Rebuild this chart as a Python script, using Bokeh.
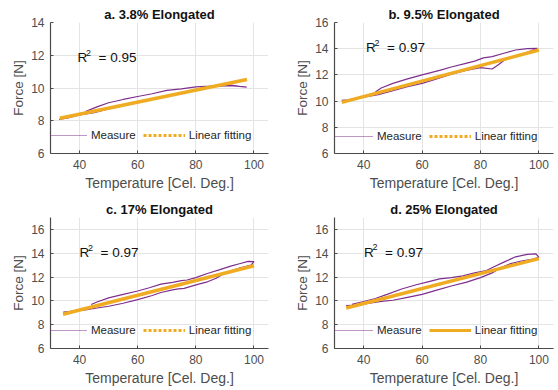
from bokeh.plotting import figure
from bokeh.layouts import gridplot
from bokeh.models import Range1d, Legend, LegendItem, Label, FixedTicker
from bokeh.embed import file_html
from bokeh.resources import INLINE

# ---------------- data ----------------
titles = ["a. 3.8% Elongated", "b. 9.5% Elongated", "c. 17% Elongated", "d. 25% Elongated"]
r2_values = ["0.95", "0.97", "0.97", "0.97"]
x_ticks = [40, 60, 80, 100]
y_ticks_a = [6, 8, 10, 12, 14]
y_ticks_bcd = [6, 8, 10, 12, 14, 16]

# panel a: measured loop (heating branch then cooling branch)
a_temp = [33, 36, 40, 45, 50, 55, 60, 65, 70, 75, 80, 84, 88, 92, 95, 97.5,
          95, 92, 89, 85, 80, 75, 70, 65, 60, 55, 50, 46, 42]
a_force = [8.08, 8.18, 8.35, 8.5, 8.72, 8.92, 9.1, 9.3, 9.48, 9.68, 9.92, 10.06, 10.12, 10.15, 10.1, 10.05,
           10.1, 10.17, 10.2, 10.12, 10.07, 9.95, 9.85, 9.65, 9.48, 9.3, 9.1, 8.85, 8.56]
a_fit_x = [33.2, 97.6]
a_fit_y = [8.15, 10.52]

# panel b
b_temp = [32.5, 35, 40, 45, 50, 55, 60, 65, 70, 75, 80, 84, 86, 88, 90, 95, 99.5,
          96, 92, 88, 84, 81, 78, 75, 70, 66, 60, 55, 50, 46, 44]
b_force = [10.05, 10.1, 10.3, 10.5, 10.8, 11.1, 11.35, 11.7, 12.05, 12.35, 12.55, 12.45, 12.75, 13.1, 13.3, 13.65, 14.02,
           14.0, 13.9, 13.65, 13.4, 13.3, 13.05, 12.88, 12.6, 12.35, 12.0, 11.7, 11.35, 11.0, 10.7]
b_fit_x = [32.5, 100]
b_fit_y = [9.9, 13.9]

# panel c
c_temp = [34.4, 38, 42, 46, 50, 55, 60, 65, 68, 72, 74, 76, 78, 81, 84, 87, 90, 95, 99, 100,
          98, 95, 92, 88, 84, 80, 77, 75, 72, 68, 64, 60, 55, 50, 46, 44]
c_force = [9.05, 9.15, 9.25, 9.4, 9.55, 9.8, 10.1, 10.45, 10.7, 10.92, 11.0, 11.05, 11.2, 11.4, 11.6, 11.9, 12.35, 12.75, 13.0, 13.3,
           13.32, 13.12, 12.92, 12.6, 12.3, 11.95, 11.75, 11.7, 11.55, 11.4, 11.1, 10.83, 10.55, 10.25, 9.9, 9.7]
c_fit_x = [34.3, 100]
c_fit_y = [8.88, 12.95]

# panel d
d_temp = [34, 38, 42, 46, 50, 55, 60, 65, 70, 75, 80, 84, 87, 90, 94, 98, 100,
          99, 96, 92, 88, 85, 82, 78, 74, 70, 66, 62, 58, 53, 48, 44, 40, 36]
d_force = [9.6, 9.65, 9.8, 9.95, 10.05, 10.3, 10.55, 10.9, 11.25, 11.55, 11.95, 12.35, 12.8, 13.1, 13.35, 13.5, 13.65,
           13.95, 13.9, 13.7, 13.25, 12.9, 12.55, 12.35, 12.1, 11.95, 11.85, 11.6, 11.35, 11.0, 10.55, 10.2, 9.95, 9.7]
d_fit_x = [34, 100]
d_fit_y = [9.4, 13.55]

# ---------------- style ----------------
PURPLE = "#7E2F8E"
ORANGE = "#EFAC22"
FONT = "Liberation Sans"
GRID = "#e4e4e4"
AXIS = "#4a4a4a"
TXT = "#4d4d4d"
NAN = float("nan")


def make_panel(title, temp, force, fit_x, fit_y, ymax, yticks, border_left, border_right,
               r2, r2_x, r2_y, leg_x, leg_y, fit_leg_dash):
    p = figure(width=279, height=195, output_backend="svg", toolbar_location=None,
               x_range=Range1d(30, 105), y_range=Range1d(6, ymax),
               min_border_left=border_left, min_border_right=border_right,
               min_border_top=22, min_border_bottom=42)
    p.outline_line_color = None
    p.background_fill_color = "white"
    p.border_fill_color = "white"

    p.title.text = title
    p.title.text_font = FONT
    p.title.text_font_size = "13px"
    p.title.text_font_style = "bold"
    p.title.text_color = "#111111"
    p.title.align = "center"
    p.title.standoff = 1

    for ax in (p.xaxis[0], p.yaxis[0]):
        ax.axis_line_color = AXIS
        ax.axis_line_width = 1.2
        ax.major_tick_line_color = AXIS
        ax.major_tick_in = 3
        ax.major_tick_out = 0
        ax.minor_tick_line_color = None
        ax.major_label_text_font = FONT
        ax.major_label_text_font_size = "12px"
        ax.major_label_text_color = TXT
        ax.axis_label_text_font = FONT
        ax.axis_label_text_font_style = "normal"
        ax.axis_label_text_color = TXT
    p.xaxis[0].ticker = FixedTicker(ticks=x_ticks)
    p.yaxis[0].ticker = FixedTicker(ticks=yticks)
    p.xaxis[0].axis_label = "Temperature [Cel. Deg.]"
    p.xaxis[0].axis_label_text_font_size = "14px"
    p.xaxis[0].major_label_standoff = 6
    p.xaxis[0].axis_label_standoff = 3
    p.yaxis[0].axis_label = "Force [N]"
    p.yaxis[0].axis_label_text_font_size = "13.5px"
    p.yaxis[0].major_label_standoff = 6
    p.yaxis[0].axis_label_standoff = 2

    p.xgrid.grid_line_color = GRID
    p.ygrid.grid_line_color = GRID
    p.xgrid.ticker = FixedTicker(ticks=x_ticks)
    p.ygrid.ticker = FixedTicker(ticks=yticks)

    p.line(temp, force, line_color=PURPLE, line_width=1.2)
    p.line(fit_x, fit_y, line_color=ORANGE, line_width=3.5)

    # legend proxies (no visible data)
    m_leg = p.line([NAN, NAN], [NAN, NAN], line_color=PURPLE, line_width=1.2, line_dash="1 1")
    f_leg = p.line([NAN, NAN], [NAN, NAN], line_color=ORANGE, line_width=3.2, line_dash=fit_leg_dash)
    leg = Legend(items=[LegendItem(label="Measure", renderers=[m_leg], index=0),
                        LegendItem(label="Linear fitting", renderers=[f_leg], index=0)],
                 orientation="horizontal", location=(leg_x, leg_y),
                 glyph_width=42, glyph_height=12, label_height=12,
                 label_standoff=4, spacing=7, padding=0, margin=0,
                 label_text_font=FONT, label_text_font_size="11.5px",
                 label_text_color="#262626",
                 background_fill_alpha=0, border_line_color=None)
    p.add_layout(leg)

    # R^2 annotation
    base = dict(x=r2_x, y=r2_y, text_font=FONT, text_color="#111111",
                text_baseline="alphabetic", text_align="left")
    p.add_layout(Label(text="R", text_font_size="13.5px", **base))
    p.add_layout(Label(text="2", text_font_size="9px", x_offset=8.5, y_offset=5, **base))
    p.add_layout(Label(text="= " + r2, text_font_size="13.5px", x_offset=21, **base))
    return p


pa = make_panel(titles[0], a_temp, a_force, a_fit_x, a_fit_y, 14, y_ticks_a, 50, 11,
                r2_values[0], 39.3, 11.86, -5, 12, "3 2")
pb = make_panel(titles[1], b_temp, b_force, b_fit_x, b_fit_y, 16, y_ticks_bcd, 55, 5,
                r2_values[1], 40.8, 14.08, -3, 11, "3 2")
pc = make_panel(titles[2], c_temp, c_force, c_fit_x, c_fit_y, 17, y_ticks_bcd, 50, 11,
                r2_values[2], 40.0, 14.02, -5, 12, "3 2")
pd = make_panel(titles[3], d_temp, d_force, d_fit_x, d_fit_y, 17, y_ticks_bcd, 55, 5,
                r2_values[3], 40.1, 14.1, -3, 12, "solid")

grid = gridplot([[pa, pb], [pc, pd]], toolbar_location=None)
open("out.html", "w").write(file_html(grid, INLINE))
